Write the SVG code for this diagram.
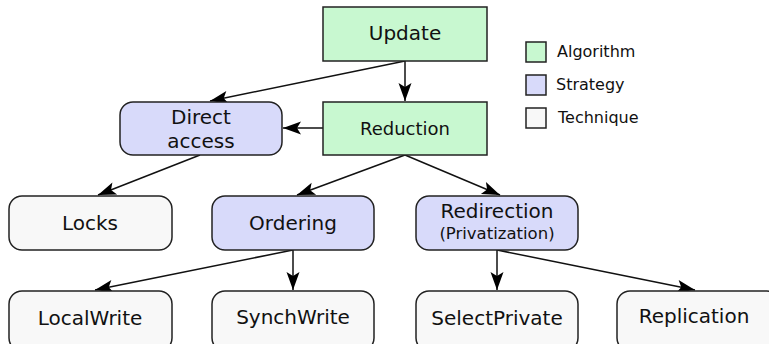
<svg xmlns="http://www.w3.org/2000/svg" width="769" height="344" viewBox="0 0 769 344">
  <defs>
    <marker id="arrow" markerUnits="userSpaceOnUse" markerWidth="22" markerHeight="16" viewBox="-20 -8 22 16" refX="0" refY="0" orient="auto">
      <path d="M0,0 L-18,-6.5 L-14,0 L-18,6.5 Z" fill="#000"/>
    </marker>
  </defs>
  <style>
    .box { stroke: #222; stroke-width: 1.5; }
    .alg { fill: #c8f8d0; }
    .str { fill: #d8dafa; }
    .tec { fill: #f8f8f8; }
    text { font-family: "DejaVu Sans", sans-serif; fill: #111; text-anchor: middle; }
    .lbl { font-size: 20px; }
    .small { font-size: 18px; }
    .sub { font-size: 16.5px; }
    .leg { font-size: 16px; text-anchor: start; }
    .edge { stroke: #111; stroke-width: 1.5; fill: none; marker-end: url(#arrow); }
  </style>

  <!-- connectors -->
  <g id="edges">
    <line class="edge" x1="405" y1="61" x2="405" y2="101"/>
    <line class="edge" x1="405" y1="61" x2="210" y2="101"/>
    <line class="edge" x1="323" y1="128" x2="283" y2="128"/>
    <line class="edge" x1="200" y1="155" x2="98" y2="195"/>
    <line class="edge" x1="405" y1="155" x2="297" y2="195"/>
    <line class="edge" x1="405" y1="155" x2="500" y2="195"/>
    <line class="edge" x1="293" y1="250" x2="95" y2="290"/>
    <line class="edge" x1="293" y1="250" x2="293" y2="290"/>
    <line class="edge" x1="497" y1="250" x2="497" y2="290"/>
    <line class="edge" x1="497" y1="250" x2="695" y2="290"/>
  </g>

  <!-- algorithms -->
  <g id="update">
    <rect class="box alg" x="323" y="7" width="164" height="54"/>
    <text class="lbl" x="405" y="40">Update</text>
  </g>
  <g id="reduction">
    <rect class="box alg" x="323" y="102" width="164" height="53"/>
    <text class="small" x="405" y="135">Reduction</text>
  </g>

  <!-- strategies -->
  <g id="direct-access">
    <rect class="box str" x="120" y="102" width="162" height="53" rx="13"/>
    <text class="lbl" x="201" y="124">Direct</text>
    <text class="lbl" x="201" y="148">access</text>
  </g>
  <g id="ordering">
    <rect class="box str" x="212" y="196" width="162" height="54" rx="13"/>
    <text class="lbl" x="293" y="230">Ordering</text>
  </g>
  <g id="redirection">
    <rect class="box str" x="416" y="196" width="162" height="54" rx="13"/>
    <text class="lbl" x="497" y="218">Redirection</text>
    <text class="sub" x="497" y="239">(Privatization)</text>
  </g>

  <!-- techniques -->
  <g id="locks">
    <rect class="box tec" x="9" y="196" width="163" height="54" rx="13"/>
    <text class="lbl" x="90" y="230">Locks</text>
  </g>
  <g id="localwrite">
    <rect class="box tec" x="9" y="291" width="163" height="60" rx="13"/>
    <text class="lbl" x="90" y="325">LocalWrite</text>
  </g>
  <g id="synchwrite">
    <rect class="box tec" x="212" y="291" width="162" height="60" rx="13"/>
    <text class="lbl" x="293" y="324">SynchWrite</text>
  </g>
  <g id="selectprivate">
    <rect class="box tec" x="416" y="291" width="162" height="60" rx="13"/>
    <text class="lbl" x="497" y="325">SelectPrivate</text>
  </g>
  <g id="replication">
    <rect class="box tec" x="617" y="291" width="163" height="60" rx="13"/>
    <text class="lbl" x="694" y="323">Replication</text>
  </g>

  <!-- legend -->
  <g id="legend">
    <rect class="box alg" x="526" y="42" width="20" height="20"/>
    <text class="leg" x="557" y="57">Algorithm</text>
    <rect class="box str" x="526" y="75" width="20" height="20"/>
    <text class="leg" x="556" y="90">Strategy</text>
    <rect class="box tec" x="526" y="108" width="20" height="20"/>
    <text class="leg" x="558" y="123">Technique</text>
  </g>
</svg>
